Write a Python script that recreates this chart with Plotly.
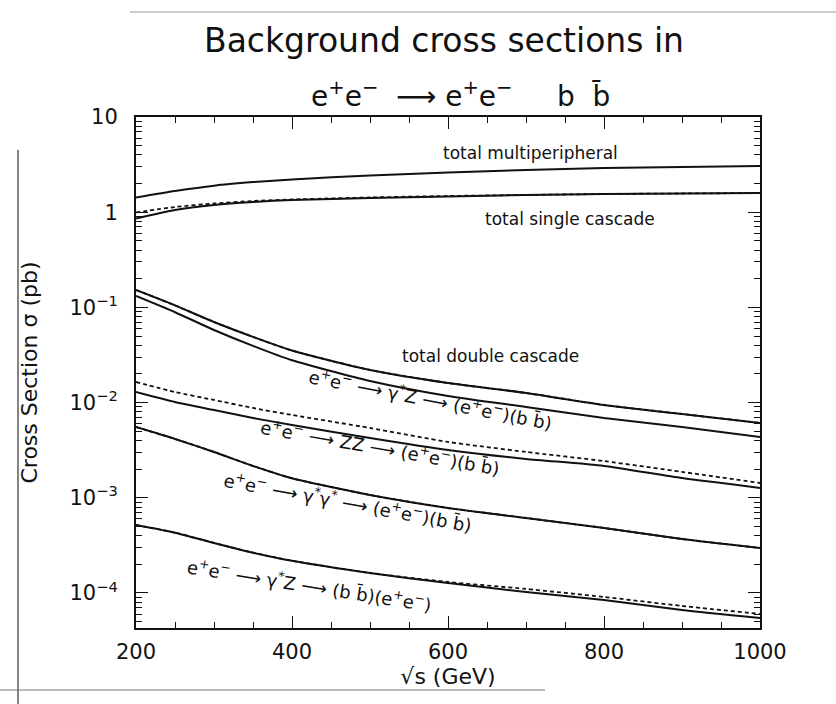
import plotly.graph_objects as go

# Centre-of-mass energy grid (GeV)
sqrt_s = [200, 250, 300, 350, 400, 500, 600, 700, 800, 900, 1000]

# Cross sections in pb
multiperipheral = [1.43, 1.67, 1.90, 2.07, 2.21, 2.43, 2.61, 2.78, 2.91, 2.99, 3.06]
single_cascade = [0.859, 1.055, 1.19, 1.28, 1.344, 1.41, 1.462, 1.516, 1.553, 1.572, 1.591]
single_cascade_alt = [0.993, 1.134, 1.234, 1.311, 1.359, 1.427, 1.48, 1.516, 1.553, 1.572, 1.591]
double_cascade = [0.1524, 0.1050, 0.0702, 0.0490, 0.0352, 0.0220, 0.01606, 0.01262, 0.00944, 0.00759, 0.00611]
double_cascade_alt = [0.1524, 0.1050, 0.0702, 0.0490, 0.0352, 0.0220, 0.01606, 0.01262, 0.00944, 0.00759, 0.00611]
gz_eebb = [0.1317, 0.0890, 0.0579, 0.0394, 0.0278, 0.01686, 0.01173, 0.00899, 0.00689, 0.00554, 0.00435]
zz_eebb = [0.01292, 0.01015, 0.00836, 0.00689, 0.00582, 0.00425, 0.00318, 0.00256, 0.00216, 0.00161, 0.00127]
zz_eebb_alt = [0.01646, 0.01292, 0.01065, 0.00878, 0.00741, 0.00541, 0.00386, 0.00303, 0.00243, 0.00187, 0.00143]
gg_eebb = [0.00554, 0.00415, 0.00303, 0.00216, 0.00160, 0.00107, 0.000781, 0.000613, 0.000482, 0.000369, 0.000297]
gg_eebb_alt = [0.00554, 0.00415, 0.00303, 0.00216, 0.00160, 0.00107, 0.000781, 0.000613, 0.000482, 0.000369, 0.000297]
gz_bbee = [0.000518, 0.000430, 0.000335, 0.000265, 0.000218, 0.000162, 0.000127, 0.0001024, 0.0000844, 0.0000663, 0.0000546]
gz_bbee_alt = [0.000518, 0.000430, 0.000335, 0.000265, 0.000218, 0.000162, 0.0001304, 0.0001102, 0.0000908, 0.000073, 0.0000602]

x_ticks = [200, 400, 600, 800, 1000]
y_ticks = [1e-4, 1e-3, 1e-2, 1e-1, 1, 10]
y_tick_text = ["10<sup>−4</sup>", "10<sup>−3</sup>", "10<sup>−2</sup>", "10<sup>−1</sup>", "1", "10"]

FONT = "DejaVu Sans"
INK = "#111111"

solid_curves = [multiperipheral, single_cascade, double_cascade, gz_eebb, zz_eebb, gg_eebb, gz_bbee]
dashed_curves = [single_cascade_alt, double_cascade_alt, zz_eebb_alt, gg_eebb_alt, gz_bbee_alt]

fig = go.Figure()
for ys in solid_curves:
    fig.add_trace(go.Scatter(x=sqrt_s, y=ys, mode="lines",
                             line=dict(color=INK, width=2, shape="spline", smoothing=0.6),
                             showlegend=False, hoverinfo="skip"))
for ys in dashed_curves:
    fig.add_trace(go.Scatter(x=sqrt_s, y=ys, mode="lines",
                             line=dict(color=INK, width=1.8, dash="4px,3px", shape="spline", smoothing=0.6),
                             showlegend=False, hoverinfo="skip"))

W, H = 836, 704
L, R, T, B = 136, 760, 117, 628


def px(xp, yp):
    return (xp - L) / (R - L), (B - yp) / (B - T)


ee = "e<sup>+</sup>e<sup>−</sup>"
ARROW = "⟶"
labels = [
    ("total multiperipheral", 530, 153, 0),
    ("total single cascade", 570, 219, 0),
    ("total double cascade", 490, 356, 0),
    (f"{ee} {ARROW} γ<sup>*</sup>Z {ARROW} ({ee})(b b̄)", 430, 399, 11),
    (f"{ee} {ARROW} ZZ {ARROW} ({ee})(b b̄)", 380, 447, 10),
    (f"{ee} {ARROW} γ<sup>*</sup>γ<sup>*</sup> {ARROW} ({ee})(b b̄)", 348, 502, 10.5),
    (f"{ee} {ARROW} γ<sup>*</sup>Z {ARROW} (b b̄)({ee})", 309, 585, 9),
]
for text, xp, yp, ang in labels:
    ax, ay = px(xp, yp)
    size = 17 if ang == 0 else 18
    fig.add_annotation(x=ax, y=ay, xref="paper", yref="paper", text=text, showarrow=False,
                       textangle=ang, font=dict(family=FONT, size=size, color=INK),
                       xanchor="center", yanchor="middle")

# Two-line heading
for text, xp, yp, size in [
    ("Background cross sections in", 444, 40, 33),
    (f"{ee}  {ARROW} {ee}     b  b̄", 460, 95, 28),
]:
    ax, ay = px(xp, yp)
    fig.add_annotation(x=ax, y=ay, xref="paper", yref="paper", text=text, showarrow=False,
                       font=dict(family=FONT, size=size, color=INK), xanchor="center", yanchor="middle")

# Page border lines around the figure
for x0, y0, x1, y1, w, c in [
    (18, 150, 18, 704, 1.2, "#333333"),
    (0, 690, 545, 690, 1.0, "#777777"),
    (130, 12, 836, 12, 1.0, "#999999"),
]:
    a0, b0 = px(x0, y0)
    a1, b1 = px(x1, y1)
    fig.add_shape(type="line", x0=a0, y0=b0, x1=a1, y1=b1, xref="paper", yref="paper",
                  line=dict(color=c, width=w))

axis_common = dict(showline=True, linecolor=INK, linewidth=2, mirror="allticks", ticks="inside",
                   tickcolor=INK, tickwidth=1.3, showgrid=False, zeroline=False)

fig.update_layout(
    width=W, height=H,
    margin=dict(l=L, r=W - R, t=T, b=H - B),
    paper_bgcolor="white", plot_bgcolor="white",
    font=dict(family=FONT, color=INK),
    xaxis=dict(range=[200, 1000], tickvals=x_ticks, ticklen=12,
               minor=dict(dtick=50, tick0=200, ticks="inside", ticklen=6, tickcolor=INK, tickwidth=1),
               tickfont=dict(family=FONT, size=21), ticklabelstandoff=4,
               title=dict(text="√s (GeV)", font=dict(family=FONT, size=22), standoff=0),
               **axis_common),
    yaxis=dict(type="log", range=[-4.368, 1.0], tickvals=y_ticks, ticktext=y_tick_text, ticklen=12,
               minor=dict(tickmode="array",
                          tickvals=[m * 10 ** e for e in range(-5, 1) for m in range(2, 10)],
                          ticks="inside", ticklen=6, tickcolor=INK, tickwidth=1),
               tickfont=dict(family=FONT, size=21), ticklabelstandoff=12,
               title=dict(text="Cross Section σ (pb)", font=dict(family=FONT, size=22), standoff=26),
               **axis_common),
)

fig.write_html("out.html")
